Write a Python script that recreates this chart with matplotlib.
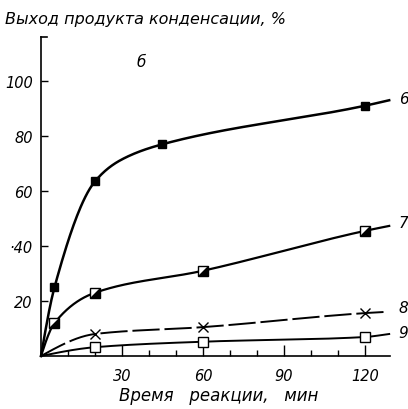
import matplotlib
matplotlib.use("Agg")
import matplotlib.pyplot as plt
import numpy as np

# --- data ---
# curve points (the extra point at 30 min on curve 6 and the line ends carry no marker)
time_6 = [0, 5, 20, 30, 45, 120, 129]
yield_6 = [0, 25, 63.5, 71.5, 77, 91, 93]
marks_6 = [1, 2, 4, 5]

time_7 = [0, 5, 20, 60, 120, 129]
yield_7 = [0, 12, 23, 31, 45.5, 47.3]
marks_7 = [1, 2, 3, 4]

time_8 = [0, 20, 60, 120, 127]
yield_8 = [0, 8, 10.5, 15.6, 16]
marks_8 = [1, 2, 3]

time_9 = [0, 20, 60, 120, 129]
yield_9 = [0, 3.2, 5.2, 6.9, 8.0]
marks_9 = [1, 2, 3]

curve_names = ["6", "7", "8", "9"]
name_y = [93.5, 48.7, 17.8, 8.7]
y_ticks = [20, 40, 60, 80, 100]
y_tick_labels = ["20", "·40", "60", "80", "100"]
x_ticks = [30, 60, 90, 120]

FONT = dict(family="DejaVu Sans", style="italic")


def pchip(x, y, xs):
    # monotone cubic curve through the read points (only for drawing the smooth line)
    x = np.asarray(x, float)
    y = np.asarray(y, float)
    h = np.diff(x)
    d = np.diff(y) / h
    m = np.zeros_like(y)
    for k in range(1, len(x) - 1):
        if d[k - 1] * d[k] > 0:
            w1 = 2 * h[k] + h[k - 1]
            w2 = h[k] + 2 * h[k - 1]
            m[k] = (w1 + w2) / (w1 / d[k - 1] + w2 / d[k])
    m[0] = d[0] * 1.5 - m[1] * 0.5
    m[-1] = d[-1]
    out = np.empty_like(xs)
    for i, xv in enumerate(xs):
        k = min(np.searchsorted(x, xv, side="right") - 1, len(x) - 2)
        k = max(k, 0)
        t = (xv - x[k]) / h[k]
        h00 = 2 * t**3 - 3 * t**2 + 1
        h10 = t**3 - 2 * t**2 + t
        h01 = -2 * t**3 + 3 * t**2
        h11 = t**3 - t**2
        out[i] = h00 * y[k] + h10 * h[k] * m[k] + h01 * y[k + 1] + h11 * h[k] * m[k + 1]
    return out


fig = plt.figure(figsize=(4.08, 4.10), dpi=100)
ax = fig.add_axes([41 / 408, 53 / 410, 349 / 408, 319 / 410])

for tt, yy, style, lw in [(time_6, yield_6, "-", 1.8),
                          (time_7, yield_7, "-", 1.6),
                          (time_8, yield_8, (0, (14, 2.5)), 1.4),
                          (time_9, yield_9, "-", 1.4)]:
    xs = np.linspace(tt[0], tt[-1], 300)
    ax.plot(xs, pchip(tt, yy, xs), color="black", lw=lw, ls=style, clip_on=False)

# markers
ax.plot([time_6[i] for i in marks_6], [yield_6[i] for i in marks_6], "s",
        ms=5.5, color="black", zorder=5)
half = [(-1, -1), (1, -1), (1, 1), (-1, -1)]
ax.plot([time_7[i] for i in marks_7], [yield_7[i] for i in marks_7], "s",
        ms=6.5, mfc="white", mec="black", mew=1.0, zorder=5)
ax.plot([time_7[i] for i in marks_7], [yield_7[i] for i in marks_7], marker=half,
        ls="none", ms=6.5, color="black", zorder=6)
ax.plot([time_8[i] for i in marks_8], [yield_8[i] for i in marks_8], "x",
        ms=7.5, mew=1.0, color="black", zorder=5)
ax.plot([time_9[i] for i in marks_9], [yield_9[i] for i in marks_9], "s",
        ms=7, mfc="white", mec="black", mew=1.0, zorder=5)

# curve numbers at the right
for name, yv in zip(curve_names, name_y):
    ax.text(132.5, yv, name, fontsize=11, va="center", ha="left",
            clip_on=False, **FONT)

ax.text(37, 107, "б", fontsize=11, ha="center", va="center", **FONT)

ax.set_xlim(0, 129.3)
ax.set_ylim(0, 116)
for side in ["top", "right"]:
    ax.spines[side].set_visible(False)
for side in ["left", "bottom"]:
    ax.spines[side].set_linewidth(1.2)

ax.set_xticks(x_ticks)
ax.set_xticks(np.arange(10, 121, 10), minor=True)
ax.set_yticks(y_ticks)
ax.set_yticklabels(y_tick_labels)
ax.tick_params(axis="x", which="major", direction="in", length=8, width=1.0, pad=9)
ax.tick_params(axis="x", which="minor", direction="in", length=4.5, width=1.0)
ax.tick_params(axis="y", direction="in", length=5, width=1.0, pad=6)
for lab in ax.get_xticklabels() + ax.get_yticklabels():
    lab.set_fontstyle("italic")
    lab.set_fontsize(10.5)

# small cap at the top of the y axis
ax.plot([0, 0.018], [1, 1], color="black", lw=1.2, transform=ax.transAxes, clip_on=False)

fig.text(0.012, 0.953, "Выход продукта конденсации, %", fontsize=11.5,
         ha="left", va="center", **FONT)
fig.text(0.535, 0.035, "Время   реакции,   мин", fontsize=12,
         ha="center", va="center", **FONT)

fig.savefig("out.png", dpi=100)
